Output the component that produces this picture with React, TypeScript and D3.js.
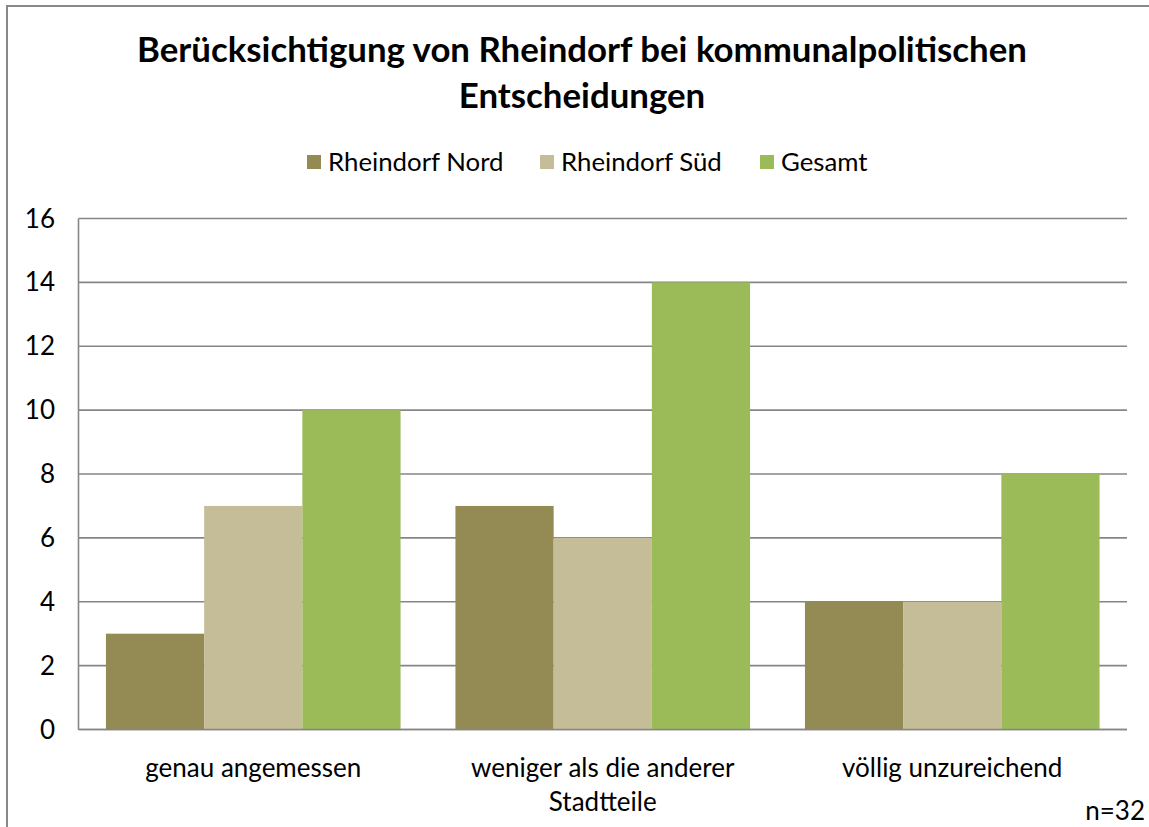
import React from "react";
import * as d3 from "d3";

const categories = ["genau angemessen", "weniger als die anderer Stadtteile", "völlig unzureichend"];
const categoryLines = [["genau angemessen"], ["weniger als die anderer", "Stadtteile"], ["völlig unzureichend"]];
const seriesNames = ["Rheindorf Nord", "Rheindorf Süd", "Gesamt"];
const nordValues = [3, 7, 4];
const suedValues = [7, 6, 4];
const gesamtValues = [10, 14, 8];
const yTicks = [0, 2, 4, 6, 8, 10, 12, 14, 16];
const colors = ["#948A54", "#C4BD97", "#9BBB59"];
const titleLines = ["Berücksichtigung von Rheindorf bei kommunalpolitischen", "Entscheidungen"];
const note = "n=32";

const W = 1149;
const H = 827;
const FONT = "Lato, 'Open Sans', sans-serif";

export default function App() {
  const plot = { left: 78.5, right: 1127, top: 218.5, bottom: 729.5 };
  const x0 = d3.scaleBand().domain(categories).range([plot.left, plot.right]).paddingInner(0.157).paddingOuter(0.0785);
  const x1 = d3.scaleBand().domain(seriesNames).range([0, x0.bandwidth()]).padding(0);
  const y = d3.scaleLinear().domain([0, 16]).range([plot.bottom, plot.top]);
  const series = [nordValues, suedValues, gesamtValues];
  const legendX = [307, 540, 760];

  return (
    <svg width={W} height={H} style={{ position: "absolute", left: 0, top: 0, background: "#fff" }} fontFamily={FONT}>
      <rect x={0} y={0} width={W} height={H} fill="#fff" />
      <rect x={7} y={6} width={W + 10} height={H + 10} fill="none" stroke="#898989" strokeWidth={2} />
      {titleLines.map((t, i) => (
        <text key={i} x={582} y={62 + i * 46} textAnchor="middle" fontSize={34.8} fontWeight={700} fill="#000">{t}</text>
      ))}
      {seriesNames.map((s, i) => (
        <g key={s}>
          <rect x={legendX[i]} y={155} width={14} height={14} fill={colors[i]} />
          <text x={legendX[i] + 21} y={171} fontSize={25.8} fill="#000">{s}</text>
        </g>
      ))}
      {yTicks.map((t) => (
        <g key={t}>
          <line x1={plot.left} x2={plot.right} y1={y(t)} y2={y(t)} stroke="#868686" strokeWidth={1.6} />
          <text x={55} y={y(t) + 9} textAnchor="end" fontSize={26} fill="#000">{t}</text>
        </g>
      ))}
      {categories.map((c, ci) => (
        <g key={c}>
          {series.map((vals, si) => (
            <rect key={si} x={(x0(c) as number) + (x1(seriesNames[si]) as number)} y={y(vals[ci])} width={x1.bandwidth()} height={y(0) - y(vals[ci])} fill={colors[si]} />
          ))}
        </g>
      ))}
      <line x1={plot.left} x2={plot.left} y1={plot.top} y2={plot.bottom} stroke="#868686" strokeWidth={1.6} />
      <line x1={plot.left} x2={plot.right} y1={plot.bottom} y2={plot.bottom} stroke="#868686" strokeWidth={1.6} />
      {categories.map((c, ci) => (
        <text key={c} x={(x0(c) as number) + x0.bandwidth() / 2} y={777} textAnchor="middle" fontSize={26} fill="#000">
          {categoryLines[ci].map((l, li) => (
            <tspan key={li} x={(x0(c) as number) + x0.bandwidth() / 2} dy={li === 0 ? 0 : 34}>{l}</tspan>
          ))}
        </text>
      ))}
      <text x={1145} y={820} textAnchor="end" fontSize={26} fill="#000">{note}</text>
    </svg>
  );
}
